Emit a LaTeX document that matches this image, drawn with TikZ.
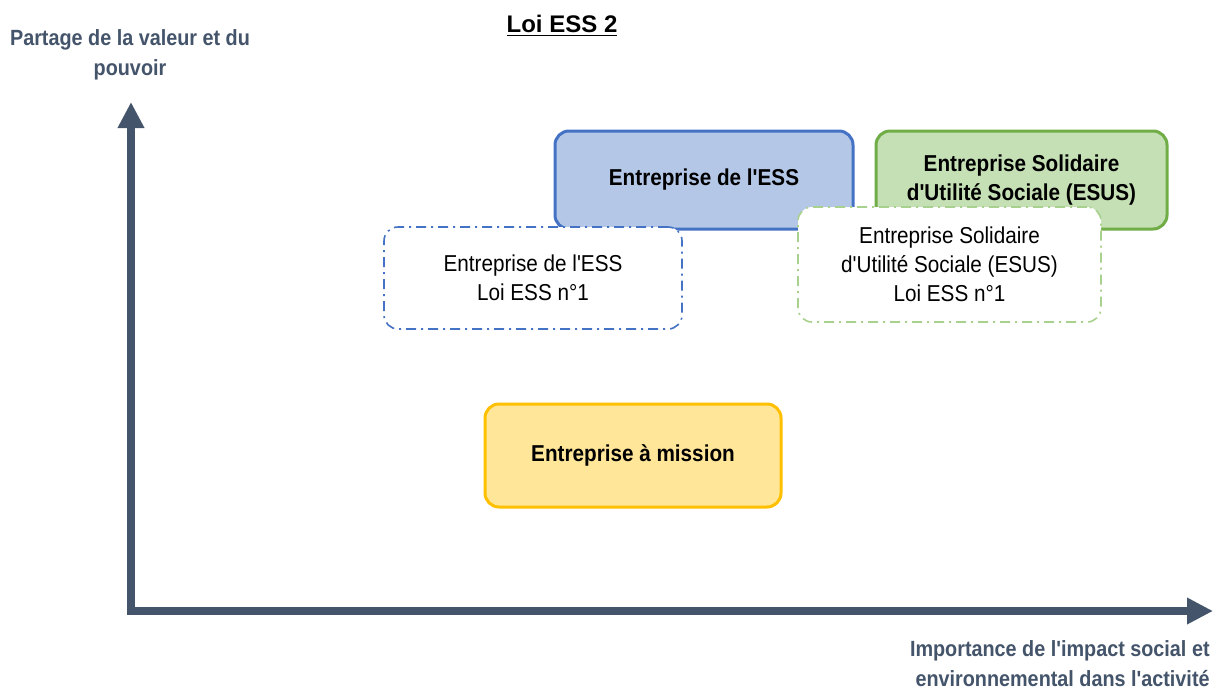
\documentclass[tikz,border=0pt]{standalone}
\usepackage{fontspec}
\setmainfont{Liberation Sans}[Ligatures=TeXOff]
\newfontfamily\condfont{Liberation Sans}[Ligatures=TeXOff, FakeStretch=0.9]
\usetikzlibrary{arrows.meta}
\definecolor{axisc}{HTML}{44546A}
\definecolor{blueb}{HTML}{4472C4}
\definecolor{bluef}{HTML}{B4C7E7}
\definecolor{greenb}{HTML}{70AD47}
\definecolor{greenf}{HTML}{C5E0B4}
\definecolor{greenl}{HTML}{A9D18E}
\definecolor{yelb}{HTML}{FFC000}
\definecolor{yelf}{HTML}{FFE699}
\tikzset{
  solidbox/.style={draw, line width=1.5pt, rounded corners=7pt, align=center,
    font=\condfont\fontsize{11.5}{14.5}\selectfont\bfseries, inner sep=0pt},
  dashbox/.style={draw, fill=white, line width=0.8pt, rounded corners=7pt, align=center,
    dash pattern=on 5pt off 2.5pt on 1pt off 2.5pt,
    font=\condfont\fontsize{11.5}{14.5}\selectfont, inner sep=0pt},
  axislabel/.style={text=axisc, font=\condfont\fontsize{11}{15}\selectfont\bfseries, inner sep=0pt}
}
\begin{document}
\begin{tikzpicture}[x=0.5pt,y=-0.5pt]
\useasboundingbox[fill=white] (0,0) rectangle (1219,691);
% axes
\coordinate (ytop) at (131,102);
\coordinate (corner) at (131,611);
\coordinate (xend) at (1213,611);
\draw[axisc, line width=4pt, line join=miter, {Triangle[width=12.5pt,length=13pt]}-{Triangle[width=12.5pt,length=13pt]}] (ytop) -- (corner) -- (xend);
% labels
\node[font=\fontsize{12}{14}\selectfont\bfseries, inner sep=0pt] (title) at (562,26) {\underline{Loi ESS 2}};
\node[axislabel, align=center] (ylab) at (130,55) {Partage de la valeur et du\\pouvoir};
\node[axislabel, align=right, anchor=east] (xlab) at (1210,664) {Importance de l'impact social et\\environnemental dans l'activité};
% boxes
\node[solidbox, draw=blueb, fill=bluef, minimum width=149pt, minimum height=49pt] (ess) at (704,180) {Entreprise de l'ESS};
\node[solidbox, draw=greenb, fill=greenf, minimum width=145.5pt, minimum height=49pt] (esus) at (1021.5,180) {Entreprise Solidaire\\d'Utilité Sociale (ESUS)};
\node[dashbox, draw=blueb, minimum width=149pt, minimum height=51pt] (ess1) at (533,278) {Entreprise de l'ESS\\Loi ESS n°1};
\node[dashbox, draw=greenl, minimum width=151.5pt, minimum height=57.5pt] (esus1) at (949.5,264.5) {Entreprise Solidaire\\d'Utilité Sociale (ESUS)\\Loi ESS n°1};
\node[solidbox, draw=yelb, fill=yelf, minimum width=148pt, minimum height=51.5pt] (mission) at (633,455.5) {Entreprise à mission};
\end{tikzpicture}
\end{document}
